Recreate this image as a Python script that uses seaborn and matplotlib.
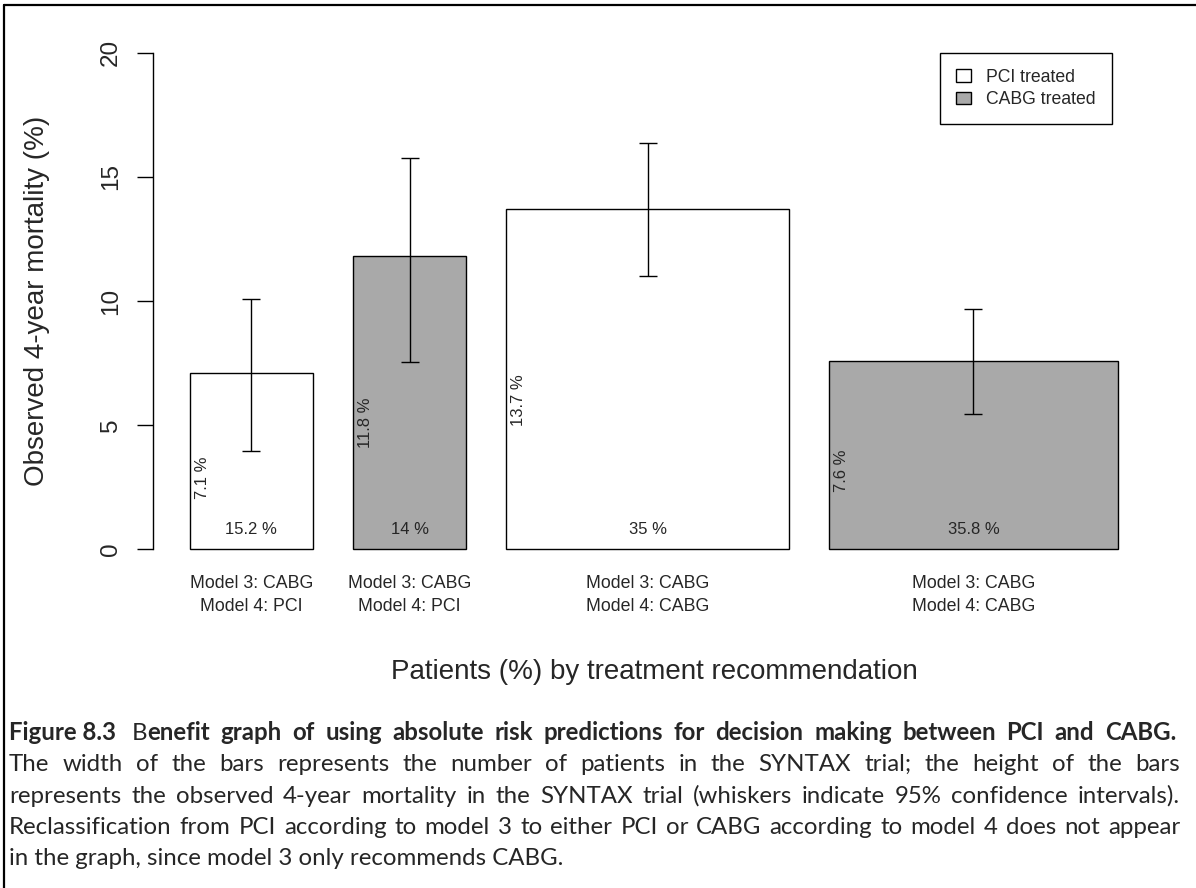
import numpy as np
import pandas as pd
import matplotlib
matplotlib.use("Agg")
import matplotlib.pyplot as plt
import matplotlib.transforms as mtransforms
from matplotlib.patches import Patch
from matplotlib.lines import Line2D
import seaborn as sns

# ---- data -------------------------------------------------------------
patients_pct = [15.2, 14.0, 35.0, 35.8]        # bar widths (% of patients)
mortality = [7.1, 11.8, 13.7, 7.6]             # bar heights (observed 4-year mortality, %)
ci_low = [3.95, 7.55, 11.0, 5.45]              # lower 95% CI
ci_high = [10.08, 15.75, 16.35, 9.68]          # upper 95% CI
treatment = ["PCI", "CABG", "PCI", "CABG"]     # treatment actually received
model3_rec = ["CABG", "CABG", "CABG", "CABG"]
model4_rec = ["PCI", "PCI", "CABG", "CABG"]
y_ticks = [0, 5, 10, 15, 20]
legend_labels = ["PCI treated", "CABG treated"]

caption_title = "Figure 8.3"
caption_lead = "B"
caption_bold = ("enefit graph of using absolute risk predictions for decision "
                "making between PCI and CABG.")
caption_lines = [
    "The width of the bars represents the number of patients in the SYNTAX trial; the height of the bars",
    "represents the observed 4-year mortality in the SYNTAX trial (whiskers indicate 95% confidence intervals).",
    "Reclassification from PCI according to model 3 to either PCI or CABG according to model 4 does not appear",
]
caption_last = "in the graph, since model 3 only recommends CABG."

# ---- style ------------------------------------------------------------
sns.set_theme(style="white")
plt.rcParams["font.family"] = ["Liberation Sans", "DejaVu Sans"]
fill = {"PCI": "white", "CABG": "#A9A9A9"}

W, H = 1196, 888
fig = plt.figure(figsize=(W / 100, H / 100), dpi=100)
fig.patch.set_facecolor("white")

# barplot geometry: gap between bars is 0.2 x mean bar width
df = pd.DataFrame({"width": patients_pct, "height": mortality,
                   "lo": ci_low, "hi": ci_high, "treat": treatment})
gap = 0.2 * df["width"].mean()
df["left"] = gap * np.arange(1, len(df) + 1) + df["width"].cumsum() - df["width"]
df["center"] = df["left"] + df["width"] / 2
x_min, x_max = df["left"].iloc[0], (df["left"] + df["width"]).iloc[-1]
span = x_max - x_min

ax = fig.add_axes([153 / W, (H - 569) / H, 1002 / W, 536 / H])
ax.set_facecolor("white")
ax.bar(df["left"], df["height"], width=df["width"], align="edge",
       color=[fill[t] for t in df["treat"]], edgecolor="black", linewidth=1.0,
       zorder=2)
ax.errorbar(df["center"], df["height"],
            yerr=[df["height"] - df["lo"], df["hi"] - df["height"]],
            fmt="none", ecolor="black", elinewidth=1.0, capsize=6.8,
            capthick=1.0, zorder=3)

ax.set_xlim(x_min - 0.04 * span, x_max + 0.04 * span)
ax.set_ylim(-0.04 * 20, 20 + 0.04 * 20)
ax.set_xticks([])
ax.set_yticks(y_ticks)
ax.set_yticklabels([str(t) for t in y_ticks], fontsize=17.5, rotation=90,
                   va="center")
ax.tick_params(axis="y", length=11.5, width=1.0, color="black", pad=11,
               left=True, direction="out")
sns.despine(ax=ax, top=True, right=True, bottom=True)
ax.spines["left"].set_bounds(y_ticks[0], y_ticks[-1])
ax.spines["left"].set_color("black")
ax.spines["left"].set_linewidth(1.0)
ax.grid(False)

# value labels inside bars
for _, r in df.iterrows():
    ax.text(r["left"] + 1.55, r["height"] / 2 + 0.2, f"{r['height']:g} %",
            rotation=90, ha="center", va="top", fontsize=12, zorder=4)
    ax.text(r["center"], 0.8, f"{r['width']:g} %", ha="center", va="center",
            fontsize=12, zorder=4)

# recommendation labels below bars
lab_tr = mtransforms.blended_transform_factory(ax.transData, fig.transFigure)
for c, m3, m4 in zip(df["center"], model3_rec, model4_rec):
    ax.text(c, 1 - 583 / H, f"Model 3: {m3}", transform=lab_tr, ha="center",
            va="center", fontsize=12.8, clip_on=False)
    ax.text(c, 1 - 606 / H, f"Model 4: {m4}", transform=lab_tr, ha="center",
            va="center", fontsize=12.8, clip_on=False)

# axis titles
fig.text(37.5 / W, 1 - 301 / H, "Observed 4-year mortality (%)", rotation=90,
         ha="center", va="center", fontsize=20)
fig.text(654 / W, 1 - 672 / H, "Patients (%) by treatment recommendation",
         ha="center", va="center", fontsize=20)

# legend
handles = [Patch(facecolor=fill["PCI"], edgecolor="black", linewidth=1.0),
           Patch(facecolor=fill["CABG"], edgecolor="black", linewidth=1.0)]
leg = ax.legend(handles, legend_labels, loc="upper right",
                bbox_to_anchor=(1112 / W, 1 - 53 / H),
                bbox_transform=fig.transFigure, borderaxespad=0,
                fontsize=12.7, frameon=True, fancybox=False, framealpha=1,
                borderpad=0.9, labelspacing=0.3, handlelength=0.85,
                handleheight=0.75, handletextpad=0.9)
leg.get_frame().set_edgecolor("black")
leg.get_frame().set_linewidth(1.0)

# frame lines along the top and left edges
fig.add_artist(Line2D([4 / W, 1], [1 - 5 / H, 1 - 5 / H], color="black",
                      linewidth=1.6, transform=fig.transFigure))
fig.add_artist(Line2D([4 / W, 4 / W], [0, 1 - 5 / H], color="black",
                      linewidth=1.6, transform=fig.transFigure))

# ---- caption ----------------------------------------------------------
CAP_FONT = ["Lato", "DejaVu Sans"]
fig.canvas.draw()
renderer = fig.canvas.get_renderer()


def measure(s, size, weight):
    t = fig.text(0, 0, s, fontsize=size, fontweight=weight, family=CAP_FONT)
    w = t.get_window_extent(renderer=renderer).width
    t.remove()
    return w


cap_size = 18 * 553 / measure(caption_last, 18, "normal")


def put(x, yb, s, weight):
    fig.text(x / W, 1 - yb / H, s, fontsize=cap_size, fontweight=weight,
             family=CAP_FONT, ha="left", va="baseline")


def put_justified(words, x0, x1, yb):
    # words: list of lists of (text, weight) runs
    widths = [sum(measure(t, cap_size, wt) for t, wt in w) for w in words]
    step = (x1 - x0 - sum(widths)) / (len(words) - 1)
    x = x0
    for w, wd in zip(words, widths):
        xx = x
        for t, wt in w:
            put(xx, yb, t, wt)
            xx += measure(t, cap_size, wt)
        x += wd + step


X0, X1 = 9, 1180
baselines = [740, 771, 803, 834, 865]

put(X0, baselines[0], caption_title, "bold")
bold_words = caption_bold.split(" ")
first = [[(caption_lead, "normal"), (bold_words[0], "bold")]]
rest = [[(w, "bold")] for w in bold_words[1:]]
put_justified(first + rest, 132, X1 - 4, baselines[0])

for line, yb in zip(caption_lines, baselines[1:4]):
    put_justified([[(w, "normal")] for w in line.split(" ")], X0, X1, yb)

put(X0, baselines[4], caption_last, "normal")

fig.savefig("out.png", dpi=100, facecolor="white")
